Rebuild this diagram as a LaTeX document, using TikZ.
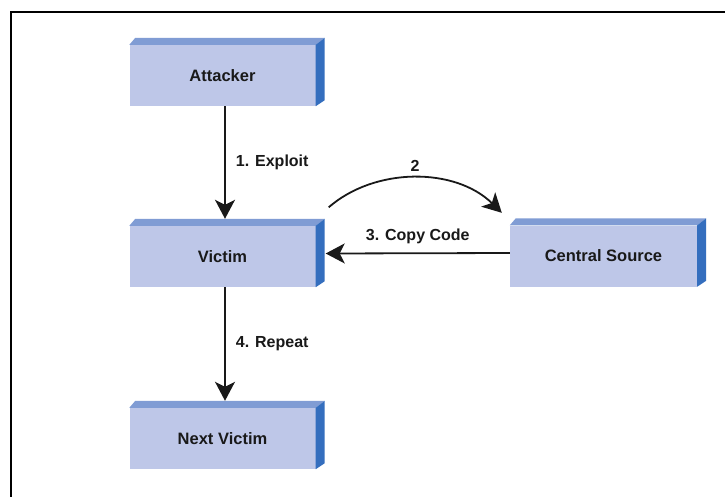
\documentclass[tikz,border=0pt]{standalone}
\usepackage{fontspec}
\setmainfont{Liberation Sans}
\usetikzlibrary{arrows.meta}
\definecolor{slabface}{RGB}{190,199,232}
\definecolor{slabtop}{RGB}{128,156,212}
\definecolor{slabside}{RGB}{52,110,190}
\definecolor{ink}{RGB}{25,25,25}
\tikzset{
  slab/.style={rectangle, fill=slabface, minimum width=186pt, minimum height=61pt,
    inner sep=0pt, text=ink, font=\fontsize{16.5}{18}\selectfont\bfseries},
  slabtopface/.style={fill=slabtop},
  slabsideface/.style={fill=slabside},
  flow/.style={line width=1.8pt, draw=ink,
    -{Stealth[length=19pt,width=20pt,inset=5pt]}},
  lbl/.style={inner sep=0pt, text=ink, font=\fontsize{16}{18}\selectfont\bfseries},
  frameline/.style={line width=2pt, draw=black},
}
% bevelled top and right faces of a slab node
\newcommand\slabedges[1]{%
  \fill[slabtopface] (#1.north west) -- ++(6pt,7pt)
    -- ([shift={(9pt,7pt)}]#1.north east) -- (#1.north east) -- cycle;
  \fill[slabsideface] (#1.north east) -- ++(9pt,7pt)
    -- ([shift={(9pt,6pt)}]#1.south east) -- (#1.south east) -- cycle;
}
\begin{document}
\begin{tikzpicture}[x=1pt, y=-1pt]
\useasboundingbox (0,0) rectangle (725,496);
\fill[white] (0,0) rectangle (725,496);

% outer frame (open to the right and bottom)
\draw[frameline] (11,497) -- (11,12) -- (726,12);

% slabs
\node[slab] (att) at (222.5,75.5)  {Attacker};
\node[slab] (vic) at (222.5,256.5) {Victim};
\node[slab, minimum width=187pt] (src) at (603.5,256) {Central Source};
\node[slab] (nxt) at (222.5,438.5) {Next Victim};
\slabedges{att}
\slabedges{vic}
\slabedges{src}
\slabedges{nxt}

% connectors
\draw[flow] ([xshift=2.5pt]att.south) -- ([xshift=2.5pt,yshift=7pt]vic.north)
  node[lbl, midway, right=10pt] {1. Exploit};
\draw[flow] ([xshift=2.5pt]vic.south) -- ([xshift=2.5pt,yshift=7pt]nxt.north)
  node[lbl, midway, right=10pt] {4. Repeat};
\coordinate (cstart) at ([shift={(13pt,18.5pt)}]vic.north east);
\coordinate (cend) at ([shift={(-8pt,12.5pt)}]src.north west);
\draw[flow] (cstart) .. controls (375,167) and (455,167) .. (cend);
\node[lbl] (two) at (415,166) {2};
\draw[flow] ([yshift=3pt]src.west) -- ([xshift=10pt,yshift=3pt]vic.east)
  node[lbl, midway, above=9pt] {3. Copy Code};
\end{tikzpicture}
\end{document}
